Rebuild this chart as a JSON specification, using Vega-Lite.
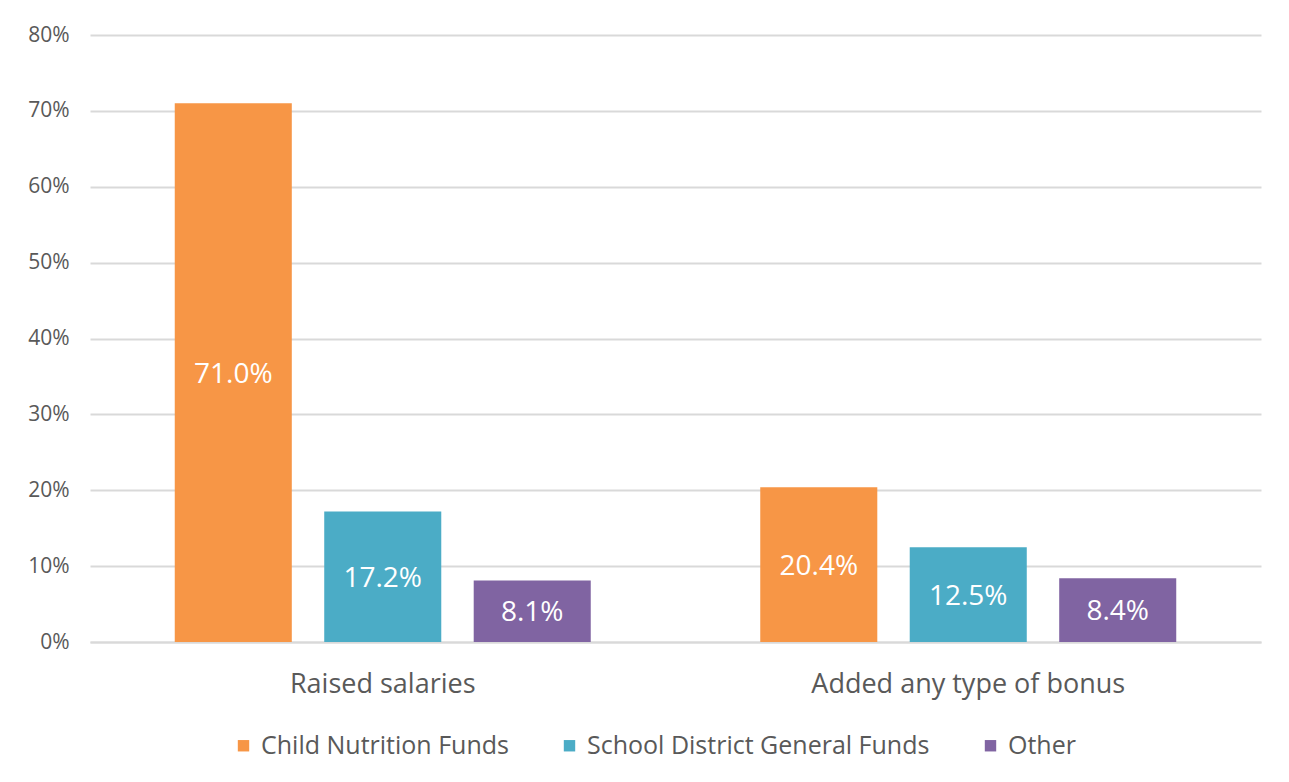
{
  "$schema": "https://vega.github.io/schema/vega-lite/v6.json",
  "width": 1171,
  "height": 607,
  "autosize": "none",
  "padding": {"left": 90, "top": 35, "right": 28, "bottom": 140},
  "background": "white",
  "data": {"values": [
    {"action": "Raised salaries", "source": "Child Nutrition Funds", "v": 0.710},
    {"action": "Raised salaries", "source": "School District General Funds", "v": 0.172},
    {"action": "Raised salaries", "source": "Other", "v": 0.081},
    {"action": "Added any type of bonus", "source": "Child Nutrition Funds", "v": 0.204},
    {"action": "Added any type of bonus", "source": "School District General Funds", "v": 0.125},
    {"action": "Added any type of bonus", "source": "Other", "v": 0.084}
  ]},
  "encoding": {
    "x": {"field": "action", "type": "nominal", "sort": ["Raised salaries", "Added any type of bonus"],
      "scale": {"paddingInner": 0, "paddingOuter": 0},
      "axis": {"title": null, "labelAngle": 0, "labelFontSize": 27, "labelColor": "#595959", "labelFont": "Open Sans",
        "ticks": false, "domainColor": "#d9d9d9", "domainWidth": 2, "labelPadding": 29, "labelLimit": 0}},
    "xOffset": {"field": "source", "type": "nominal", "sort": ["Child Nutrition Funds", "School District General Funds", "Other"],
      "scale": {"paddingInner": 0.217, "paddingOuter": 0.567}},
    "color": {"field": "source", "type": "nominal", "sort": ["Child Nutrition Funds", "School District General Funds", "Other"],
      "scale": {"domain": ["Child Nutrition Funds", "School District General Funds", "Other"], "range": ["#F79646", "#4BACC6", "#8064A2"]},
      "legend": {"title": null, "orient": "none", "direction": "horizontal", "legendX": 141, "legendY": 698,
        "symbolType": "square", "symbolSize": 130, "symbolStrokeWidth": 0, "labelFontSize": 25, "labelColor": "#595959",
        "labelFont": "Open Sans", "columnPadding": 48, "labelOffset": 5, "labelLimit": 0}}
  },
  "layer": [
    {
      "mark": {"type": "bar"},
      "encoding": {
        "y": {"field": "v", "type": "quantitative", "scale": {"domain": [0, 0.8], "nice": false},
          "axis": {"title": null, "format": ".0%", "values": [0,0.1,0.2,0.3,0.4,0.5,0.6,0.7,0.8], "labelOverlap": false,
            "labelFontSize": 21, "labelColor": "#595959", "labelFont": "Open Sans", "ticks": false, "domain": false,
            "gridColor": "#d9d9d9", "gridWidth": 2, "labelPadding": 21}}
      }
    },
    {
      "mark": {"type": "text", "color": "white", "fontSize": 28, "font": "Open Sans", "baseline": "middle", "align": "center", "dy": 2},
      "encoding": {
        "y": {"field": "v", "type": "quantitative", "scale": {"domain": [0, 1.6], "nice": false}, "axis": null},
        "text": {"field": "v", "type": "quantitative", "format": ".1%"},
        "color": {"value": "white"}
      }
    }
  ],
  "resolve": {"scale": {"y": "independent"}},
  "config": {"view": {"stroke": null}}
}
